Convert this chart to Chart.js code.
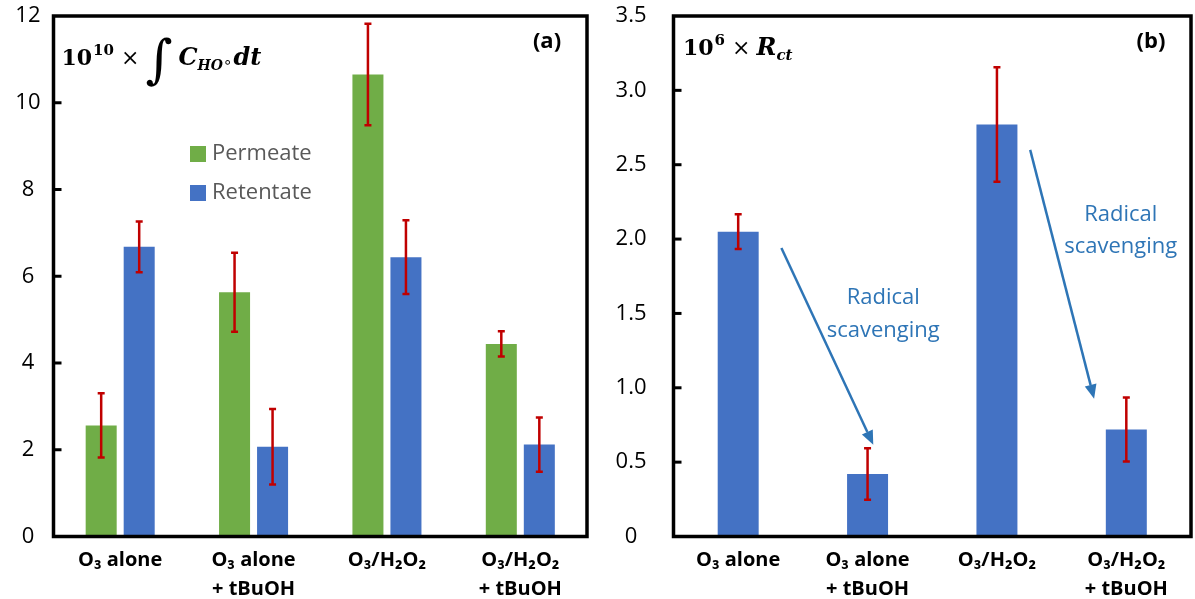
<!DOCTYPE html>
<html>
<head>
<meta charset="utf-8">
<script src="https://cdn.jsdelivr.net/npm/chart.js@4.4.1/dist/chart.umd.min.js"></script>
<style>
  body { margin: 0; background: #fff; width: 1195px; height: 599px; overflow: hidden; position: relative; }
  #wrapA { position: absolute; left: 0; top: 0; width: 600px; height: 599px; }
  #wrapB { position: absolute; left: 600px; top: 0; width: 595px; height: 599px; }
</style>
</head>
<body>
<div id="wrapA"><canvas id="chartA"></canvas></div>
<div id="wrapB"><canvas id="chartB"></canvas></div>
<script>
// treatments along the x axis (two-line labels)
const treatments = [['O₃ alone'], ['O₃ alone', '+ tBuOH'], ['O₃/H₂O₂'], ['O₃/H₂O₂', '+ tBuOH']];
const seriesNames = ['Permeate', 'Retentate'];

// panel (a): 10^10 x integral of C_HO dt
const permeate = [2.56, 5.63, 10.65, 4.44];
const permeateErr = [0.74, 0.91, 1.17, 0.29];
const retentate = [6.68, 2.07, 6.44, 2.12];
const retentateErr = [0.585, 0.87, 0.85, 0.625];
const ticksA = [0, 2, 4, 6, 8, 10, 12];

// panel (b): 10^6 x Rct
const rct = [2.05, 0.42, 2.77, 0.72];
const rctErr = [0.117, 0.173, 0.385, 0.215];
const ticksB = [0, 0.5, 1, 1.5, 2, 2.5, 3, 3.5];

const SANS = '"Open Sans", "DejaVu Sans", sans-serif';
const SERIF = '"DejaVu Serif", "Liberation Serif", serif';
const GREEN = '#70AD47', BLUE = '#4472C4', RED = '#C00000', NOTE = '#2E75B6';

// red error bars on top of every bar
const errorBars = {
  id: 'errorBars',
  afterDatasetsDraw(chart) {
    const ctx = chart.ctx, y = chart.scales.y;
    ctx.save();
    ctx.strokeStyle = RED;
    ctx.lineWidth = 2.5;
    chart.data.datasets.forEach((ds, i) => {
      if (!ds.errors) return;
      chart.getDatasetMeta(i).data.forEach((bar, j) => {
        const v = ds.data[j], e = ds.errors[j];
        const top = y.getPixelForValue(v + e), bot = y.getPixelForValue(v - e);
        ctx.beginPath();
        ctx.moveTo(bar.x, top); ctx.lineTo(bar.x, bot);
        ctx.moveTo(bar.x - 3.5, top); ctx.lineTo(bar.x + 3.5, top);
        ctx.moveTo(bar.x - 3.5, bot); ctx.lineTo(bar.x + 3.5, bot);
        ctx.stroke();
      });
    });
    ctx.restore();
  }
};

// box round the plot + short inward ticks on the y axis
const frame = {
  id: 'frame',
  afterDraw(chart) {
    const { ctx, chartArea: a } = chart, y = chart.scales.y;
    ctx.save();
    ctx.strokeStyle = '#000';
    ctx.lineWidth = 3.5;
    ctx.strokeRect(a.left, a.top, a.right - a.left, a.bottom - a.top);
    ctx.lineWidth = 3;
    y.ticks.forEach(t => {
      if (t.value === 0 || t.value === y.max) return;
      const py = y.getPixelForValue(t.value);
      ctx.beginPath();
      ctx.moveTo(a.left, py); ctx.lineTo(a.left + 8, py);
      ctx.stroke();
    });
    ctx.restore();
  }
};

// draws a row of text pieces (for the math labels)
function drawMath(ctx, x, y, parts) {
  ctx.textBaseline = 'alphabetic';
  ctx.textAlign = 'left';
  parts.forEach(p => {
    x += p.gap || 0;
    ctx.font = p.f;
    ctx.fillText(p.t, x, y + (p.dy || 0));
    x += ctx.measureText(p.t).width;
  });
}

const notesA = {
  id: 'notesA',
  afterDraw(chart) {
    const { ctx, chartArea: a } = chart;
    ctx.save();
    ctx.fillStyle = '#000';
    drawMath(ctx, a.left + 8, 65, [
      { t: '10', f: 'bold 22px ' + SERIF },
      { t: '10', f: 'bold 15px ' + SERIF, dy: -10, gap: 1 },
      { t: '×', f: '22px ' + SERIF, gap: 7 },
      { t: '∫', f: '52px ' + SERIF, dy: 12, gap: 6 },
      { t: 'C', f: 'bold italic 24px ' + SERIF, gap: 6 },
      { t: 'HO', f: 'bold italic 14px ' + SERIF, dy: 5 },
      { t: '∘', f: '15px "DejaVu Sans"', dy: 2 },
      { t: 'dt', f: 'bold italic 24px ' + SERIF, gap: 1 }
    ]);
    ctx.font = 'bold 22px ' + SANS;
    ctx.textAlign = 'center';
    ctx.textBaseline = 'middle';
    ctx.fillText('(a)', 547, 42);
    // legend
    chart.data.datasets.forEach((ds, i) => {
      const cy = 154 + i * 39;
      ctx.fillStyle = ds.backgroundColor;
      ctx.fillRect(190, cy - 8, 16, 16);
      ctx.fillStyle = '#595959';
      ctx.font = '22px ' + SANS;
      ctx.textAlign = 'left';
      ctx.fillText(ds.label, 212, cy);
    });
    ctx.restore();
  }
};

// arrows and notes of panel (b), placed in data units
const arrowsB = [
  { from: [0.334, 1.94], to: [1.044, 0.617] },
  { from: [2.257, 2.60], to: [2.751, 0.927] }
];
const textsB = [
  { at: [1.121, 1.606], t: 'Radical' }, { at: [1.121, 1.384], t: 'scavenging' },
  { at: [2.957, 2.164], t: 'Radical' }, { at: [2.957, 1.948], t: 'scavenging' }
];

const notesB = {
  id: 'notesB',
  afterDraw(chart) {
    const { ctx } = chart, x = chart.scales.x, y = chart.scales.y;
    ctx.save();
    ctx.fillStyle = '#000';
    drawMath(ctx, 83, 55, [
      { t: '10', f: 'bold 22px ' + SERIF },
      { t: '6', f: 'bold 15px ' + SERIF, dy: -10, gap: 1 },
      { t: '×', f: '22px ' + SERIF, gap: 7 },
      { t: 'R', f: 'bold italic 24px ' + SERIF, gap: 6 },
      { t: 'ct', f: 'bold italic 15px ' + SERIF, dy: 5 }
    ]);
    ctx.font = 'bold 22px ' + SANS;
    ctx.textAlign = 'center';
    ctx.textBaseline = 'middle';
    ctx.fillText('(b)', 551, 42);

    ctx.strokeStyle = NOTE;
    ctx.fillStyle = NOTE;
    ctx.lineWidth = 2.5;
    arrowsB.forEach(ar => {
      const x0 = x.getPixelForValue(ar.from[0]), y0 = y.getPixelForValue(ar.from[1]);
      const x1 = x.getPixelForValue(ar.to[0]), y1 = y.getPixelForValue(ar.to[1]);
      const ang = Math.atan2(y1 - y0, x1 - x0), len = 14, half = 6;
      const bx = x1 - len * Math.cos(ang), by = y1 - len * Math.sin(ang);
      ctx.beginPath();
      ctx.moveTo(x0, y0); ctx.lineTo(bx, by);
      ctx.stroke();
      ctx.beginPath();
      ctx.moveTo(x1, y1);
      ctx.lineTo(bx + half * Math.sin(ang), by - half * Math.cos(ang));
      ctx.lineTo(bx - half * Math.sin(ang), by + half * Math.cos(ang));
      ctx.closePath();
      ctx.fill();
    });
    ctx.font = '22px ' + SANS;
    textsB.forEach(n => {
      ctx.fillText(n.t, x.getPixelForValue(n.at[0]), y.getPixelForValue(n.at[1]));
    });
    ctx.restore();
  }
};

function axes(ticks, max, yWidth, yPad, fmt) {
  return {
    x: {
      afterFit: s => { s.height = 62.5; },
      grid: { display: false, drawTicks: false },
      border: { display: false },
      ticks: {
        color: '#000', padding: 9, maxRotation: 0, autoSkip: false,
        font: { family: SANS, size: 20, weight: 'bold', lineHeight: 1.45 }
      }
    },
    y: {
      min: 0, max: max,
      afterBuildTicks: s => { s.ticks = ticks.map(v => ({ value: v })); },
      // fixed axis width, and no extra room above/below for the end labels
      afterFit: s => { s.width = yWidth; s.paddingTop = 0; s.paddingBottom = 0; },
      grid: { display: false, drawTicks: false },
      border: { display: false },
      ticks: {
        color: '#000', padding: yPad, crossAlign: 'center',
        font: { family: SANS, size: 22 },
        callback: fmt
      }
    }
  };
}

new Chart(document.getElementById('chartA'), {
  type: 'bar',
  data: {
    labels: treatments,
    datasets: [
      { label: seriesNames[0], data: permeate, errors: permeateErr, backgroundColor: GREEN,
        categoryPercentage: 0.57, barPercentage: 0.816 },
      { label: seriesNames[1], data: retentate, errors: retentateErr, backgroundColor: BLUE,
        categoryPercentage: 0.57, barPercentage: 0.816 }
    ]
  },
  options: {
    responsive: true, maintainAspectRatio: false, animation: false, devicePixelRatio: 1,
    layout: { padding: { top: 16, right: 13, left: 0, bottom: 0 } },
    plugins: { legend: { display: false }, tooltip: { enabled: false } },
    scales: axes(ticksA, 12, 53.5, 13, v => String(v))
  },
  plugins: [errorBars, frame, notesA]
});

new Chart(document.getElementById('chartB'), {
  type: 'bar',
  data: {
    labels: treatments,
    datasets: [
      { label: 'Rct', data: rct, errors: rctErr, backgroundColor: BLUE,
        categoryPercentage: 0.35, barPercentage: 0.905 }
    ]
  },
  options: {
    responsive: true, maintainAspectRatio: false, animation: false, devicePixelRatio: 1,
    layout: { padding: { top: 16, right: 4, left: 0, bottom: 0 } },
    plugins: { legend: { display: false }, tooltip: { enabled: false } },
    scales: axes(ticksB, 3.5, 73.5, 27, v => v === 0 ? '0' : v.toFixed(1))
  },
  plugins: [errorBars, frame, notesB]
});
</script>
</body>
</html>
